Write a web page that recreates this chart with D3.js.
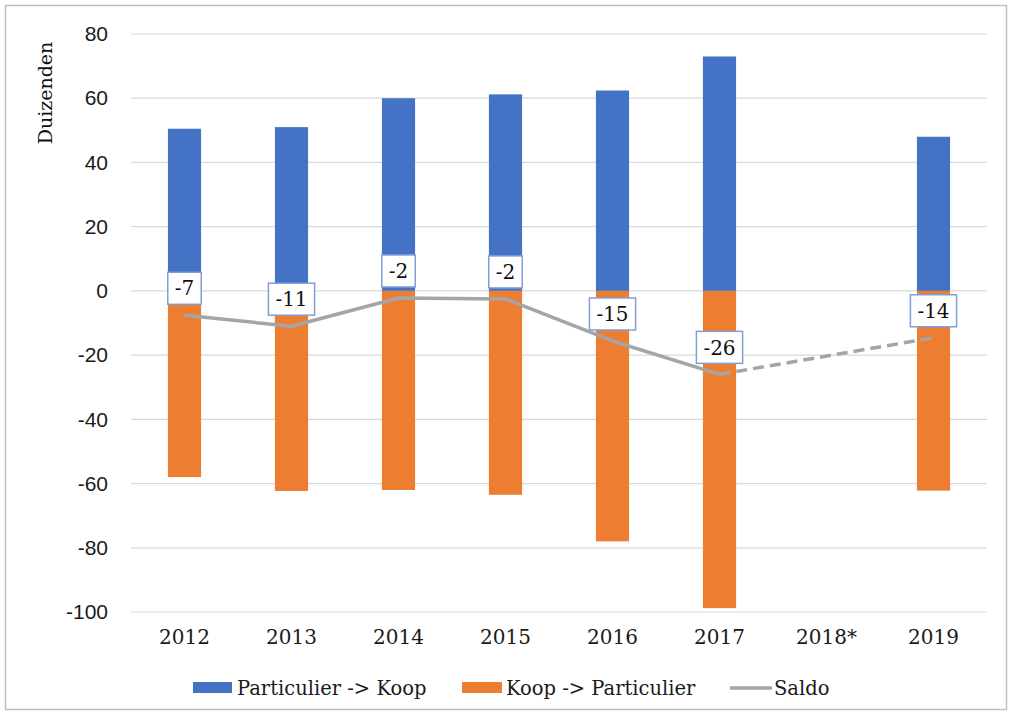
<!DOCTYPE html>
<html>
<head>
<meta charset="utf-8">
<script src="https://cdn.jsdelivr.net/npm/d3@7"></script>
<style>
  body { margin: 0; background: #fff; }
  svg { display: block; }
</style>
</head>
<body>
<svg id="chart" width="1015" height="716"></svg>
<script>
// data (duizenden)
const years = ['2012', '2013', '2014', '2015', '2016', '2017', '2018*', '2019'];
const partNaarKoop = [50.5, 51, 60, 61.2, 62.4, 73, null, 48];
const koopNaarPart = [-58, -62.3, -62, -63.5, -78, -98.8, null, -62.2];
const saldo = [-7.6, -11, -2.2, -2.5, -15.6, -26, null, -14.6];
const saldoLabels = ['-7', '-11', '-2', '-2', '-15', '-26', null, '-14'];
const yTicks = [80, 60, 40, 20, 0, -20, -40, -60, -80, -100];

const blue = '#4472C4';
const orange = '#ED7D31';
const grey = '#A5A5A5';
const serif = 'DejaVu Serif, serif';
const sans = 'Liberation Sans, Arial, sans-serif';

const svg = d3.select('#chart');

// outer frame
svg.append('rect').attr('x', 5.5).attr('y', 5.5).attr('width', 1001).attr('height', 704)
  .attr('fill', '#fff').attr('stroke', '#bfbfbf').attr('stroke-width', 1.5);

const x = d3.scaleBand().domain(years).range([131, 987]).paddingInner(0.69).paddingOuter(0.345);
const y = d3.scaleLinear().domain([-100, 80]).range([612, 34]);
const xc = (d) => x(d) + x.bandwidth() / 2;

// gridlines
svg.append('g').selectAll('line').data(yTicks).join('line')
  .attr('x1', 131).attr('x2', 987)
  .attr('y1', (d) => y(d)).attr('y2', (d) => y(d))
  .attr('stroke', '#d9d9d9').attr('stroke-width', 1.2);

// y axis labels (plain hyphen, like the original)
const yAxis = svg.append('g').attr('transform', 'translate(108,0)')
  .call(d3.axisLeft(y).tickValues(yTicks).tickFormat((d) => String(d)).tickSize(0).tickPadding(0));
yAxis.select('.domain').remove();
yAxis.selectAll('text').attr('font-family', sans).attr('font-size', 21).attr('fill', '#1a1a1a');

svg.append('text').attr('transform', 'translate(52,93) rotate(-90)')
  .attr('text-anchor', 'middle').attr('font-family', serif).attr('font-size', 19)
  .attr('fill', '#111').text('Duizenden');

// x axis labels
const xAxis = svg.append('g').attr('transform', 'translate(0,626)')
  .call(d3.axisBottom(x).tickSize(0).tickPadding(0));
xAxis.select('.domain').remove();
xAxis.selectAll('text').attr('font-family', serif).attr('font-size', 20).attr('fill', '#1a1a1a')
  .attr('dy', '0.9em');

// bars
svg.append('g').selectAll('rect').data(years.filter((d, i) => partNaarKoop[i] !== null)).join('rect')
  .attr('x', (d) => x(d)).attr('width', x.bandwidth())
  .attr('y', (d) => y(partNaarKoop[years.indexOf(d)]))
  .attr('height', (d) => y(0) - y(partNaarKoop[years.indexOf(d)]))
  .attr('fill', blue);

svg.append('g').selectAll('rect').data(years.filter((d, i) => koopNaarPart[i] !== null)).join('rect')
  .attr('x', (d) => x(d)).attr('width', x.bandwidth())
  .attr('y', y(0))
  .attr('height', (d) => y(koopNaarPart[years.indexOf(d)]) - y(0))
  .attr('fill', orange);

// saldo line: solid up to 2017, dashed across the missing 2018
const pts = years.map((d, i) => ({ yr: d, v: saldo[i], lab: saldoLabels[i] })).filter((p) => p.v !== null);
const line = d3.line().x((p) => xc(p.yr)).y((p) => y(p.v));
svg.append('path').datum(pts.slice(0, 6)).attr('d', line)
  .attr('fill', 'none').attr('stroke', grey).attr('stroke-width', 3.5).attr('stroke-linejoin', 'round');
svg.append('path').datum(pts.slice(5)).attr('d', line)
  .attr('fill', 'none').attr('stroke', grey).attr('stroke-width', 3.5).attr('stroke-dasharray', '11,6');

// data labels
const lab = svg.append('g').selectAll('g').data(pts).join('g')
  .attr('transform', (p) => `translate(${xc(p.yr)},${y(p.v) - 27})`);
lab.append('text').attr('text-anchor', 'middle').attr('dy', '0.36em')
  .attr('font-family', serif).attr('font-size', 20).attr('fill', '#111')
  .text((p) => p.lab);
lab.each(function () {
  const g = d3.select(this);
  const bb = g.select('text').node().getBBox();
  g.insert('rect', 'text')
    .attr('x', bb.x - 7).attr('y', -16).attr('width', bb.width + 14).attr('height', 32)
    .attr('fill', '#fff').attr('stroke', '#7f9fd6').attr('stroke-width', 1.5);
});

// legend
const legend = svg.append('g').attr('font-family', serif).attr('font-size', 19.5).attr('fill', '#1a1a1a');
legend.append('rect').attr('x', 193).attr('y', 682).attr('width', 39).attr('height', 11).attr('fill', blue);
legend.append('text').attr('x', 237).attr('y', 695).text('Particulier -> Koop');
legend.append('rect').attr('x', 462).attr('y', 682).attr('width', 40).attr('height', 11).attr('fill', orange);
legend.append('text').attr('x', 506).attr('y', 695).text('Koop -> Particulier');
legend.append('line').attr('x1', 730).attr('x2', 772).attr('y1', 688).attr('y2', 688)
  .attr('stroke', grey).attr('stroke-width', 3.5);
legend.append('text').attr('x', 774).attr('y', 695).text('Saldo');
</script>
</body>
</html>
